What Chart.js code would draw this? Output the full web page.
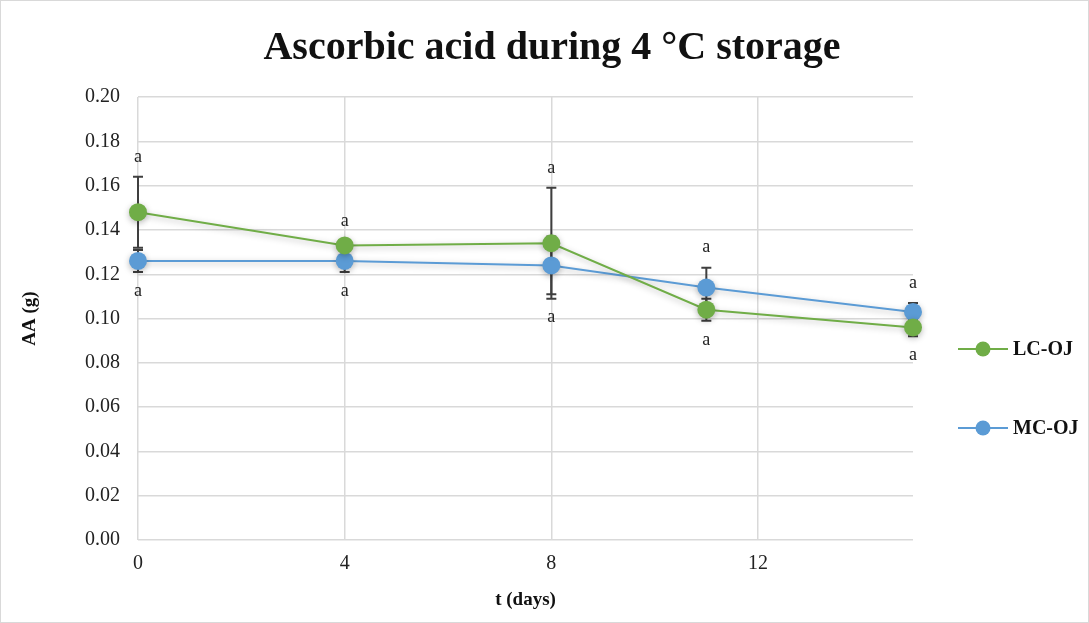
<!DOCTYPE html>
<html>
<head>
<meta charset="utf-8">
<script src="https://cdn.jsdelivr.net/npm/chart.js@4/dist/chart.umd.min.js"></script>
<style>
  html, body { margin: 0; padding: 0; background: #fff; }
  #wrap { position: relative; width: 1087px; height: 621px; border: 1px solid #d9d9d9; }
</style>
</head>
<body>
<div id="wrap"><canvas id="aa-chart"></canvas></div>
<script>
const days = [0, 4, 8, 11, 15]
const lcValues = [0.148, 0.133, 0.134, 0.104, 0.096]
const mcValues = [0.126, 0.126, 0.124, 0.114, 0.103]
const lcErrors = [0.016, 0.002, 0.025, 0.005, 0.004]
const mcErrors = [0.005, 0.005, 0.013, 0.009, 0.004]
const letters = ['a', 'a', 'a', 'a', 'a']
const chartTitle = 'Ascorbic acid during 4 °C storage'
const lcColor = '#70ad47'
const mcColor = '#5b9bd5'
const serif = '"Liberation Serif", "Times New Roman", serif'

const toPoints = vals => vals.map((v, i) => ({ x: days[i], y: v }))

// error bars + letters drawn through the scales
const errorBars = {
  id: 'errorBars',
  beforeDatasetsDraw(chart) {
    const { ctx, scales: { x, y } } = chart
    const sets = [[lcValues, lcErrors], [mcValues, mcErrors]]
    ctx.save()
    ctx.strokeStyle = '#3f3f3f'
    ctx.lineWidth = 2
    sets.forEach(([vals, errs]) => {
      vals.forEach((v, i) => {
        const px = x.getPixelForValue(days[i])
        const top = y.getPixelForValue(v + errs[i])
        const bot = y.getPixelForValue(v - errs[i])
        ctx.beginPath()
        ctx.moveTo(px, top); ctx.lineTo(px, bot)
        ctx.moveTo(px - 5, top); ctx.lineTo(px + 5, top)
        ctx.moveTo(px - 5, bot); ctx.lineTo(px + 5, bot)
        ctx.stroke()
      })
    })
    ctx.restore()
  },
  beforeDatasetDraw(chart) {
    const ctx = chart.ctx
    ctx.save()
    ctx.shadowColor = 'rgba(0,0,0,0.28)'
    ctx.shadowBlur = 6
    ctx.shadowOffsetY = 2
  },
  afterDatasetDraw(chart) {
    chart.ctx.restore()
  },
  afterDatasetsDraw(chart) {
    const { ctx, scales: { x, y } } = chart
    ctx.save()
    ctx.fillStyle = '#222'
    ctx.font = '18px ' + serif
    ctx.textAlign = 'center'
    ctx.textBaseline = 'middle'
    days.forEach((d, i) => {
      const px = x.getPixelForValue(d)
      const hi = Math.max(lcValues[i] + lcErrors[i], mcValues[i] + mcErrors[i])
      const lo = Math.min(lcValues[i] - lcErrors[i], mcValues[i] - mcErrors[i])
      ctx.fillText(letters[i], px, y.getPixelForValue(hi) - 20)
      ctx.fillText(letters[i], px, y.getPixelForValue(lo) + 19)
    })
    ctx.restore()
  }
}

// title centred on the whole picture, legend on the right
const sideLegend = {
  id: 'sideLegend',
  afterDraw(chart) {
    const { ctx } = chart
    ctx.save()
    ctx.fillStyle = '#111'
    ctx.font = 'bold 40px ' + serif
    ctx.textAlign = 'center'
    ctx.textBaseline = 'middle'
    ctx.fillText(chartTitle, 551, 48)
    const items = [['LC-OJ', lcColor, 348], ['MC-OJ', mcColor, 427]]
    items.forEach(([label, color, yy]) => {
      ctx.strokeStyle = color
      ctx.lineWidth = 2
      ctx.beginPath(); ctx.moveTo(957, yy); ctx.lineTo(1007, yy); ctx.stroke()
      ctx.fillStyle = color
      ctx.beginPath(); ctx.arc(982, yy, 7.5, 0, Math.PI * 2); ctx.fill()
      ctx.fillStyle = '#111'
      ctx.font = 'bold 20px ' + serif
      ctx.textAlign = 'left'
      ctx.textBaseline = 'middle'
      ctx.fillText(label, 1012, yy + 1)
    })
    ctx.restore()
  }
}

const ds = (label, vals, color) => ({
  label,
  data: toPoints(vals),
  borderColor: color,
  backgroundColor: color,
  borderWidth: 2,
  pointRadius: 9,
  pointHoverRadius: 9,
  pointBorderWidth: 0,
  tension: 0,
  clip: false
})

new Chart(document.getElementById('aa-chart').getContext('2d'), {
  type: 'line',
  data: { datasets: [ds('LC-OJ', lcValues, lcColor), ds('MC-OJ', mcValues, mcColor)] },
  options: {
    responsive: true,
    maintainAspectRatio: false,
    animation: false,
    layout: { padding: { left: 0, right: 175, top: 96, bottom: 7 } },
    plugins: {
      legend: { display: false },
      tooltip: { enabled: false },
      title: { display: false }
    },
    scales: {
      x: {
        type: 'linear',
        min: 0,
        max: 15,
        ticks: { stepSize: 4, includeBounds: false, color: '#222', font: { family: serif, size: 20 }, padding: 12 },
        grid: { color: '#d9d9d9', lineWidth: 1.5, drawTicks: false },
        border: { display: false },
        title: { display: true, text: 't (days)', color: '#111', font: { family: serif, size: 19, weight: 'bold' }, padding: { top: 0 } }
      },
      y: {
        min: 0,
        max: 0.2,
        ticks: { stepSize: 0.02, color: '#222', font: { family: serif, size: 20 }, padding: 18, callback: v => v.toFixed(2) },
        grid: { color: '#d9d9d9', lineWidth: 1.5, drawTicks: false },
        border: { display: false },
        title: { display: true, text: 'AA (g)', color: '#111', font: { family: serif, size: 19, weight: 'bold' }, padding: { top: 18, bottom: 20 } },
        afterFit: s => { s.width = 137 }
      }
    }
  },
  plugins: [errorBars, sideLegend]
})
</script>
</body>
</html>
